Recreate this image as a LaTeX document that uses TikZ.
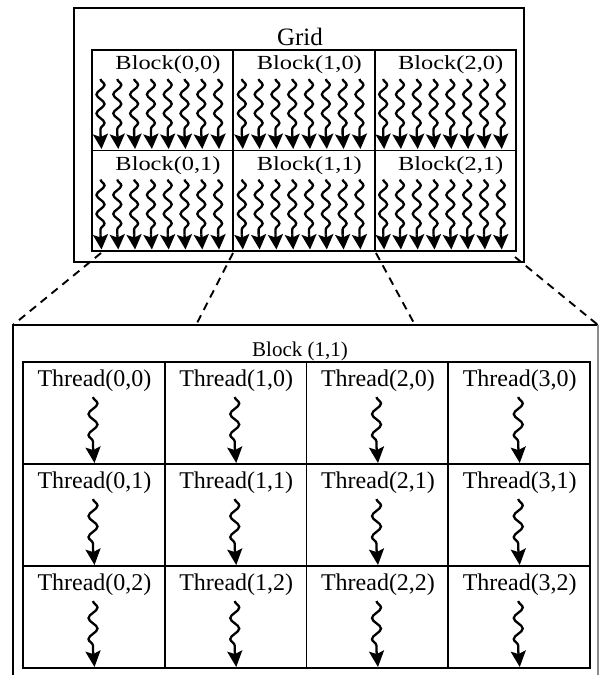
\documentclass[tikz,border=0pt]{standalone}
\usepackage{fontspec}
\setmainfont{Liberation Serif}
\usetikzlibrary{decorations.pathmorphing,arrows.meta}
\begin{document}
\begin{tikzpicture}[x=1pt,y=-1pt,
  framebox/.style={draw=black,line width=1.8pt,inner sep=0pt},
  blockbox/.style={draw=black,line width=1.8pt,inner sep=0pt,minimum width=141.33pt,minimum height=100.5pt},
  cellbox/.style={draw=black,line width=1.8pt,inner sep=0pt,minimum width=141.75pt,minimum height=102pt},
  lbl/.style={inner sep=0pt,text=black},
  gridlbl/.style={lbl,font=\fontsize{25}{29}\selectfont},
  blklbl/.style={lbl,font=\fontsize{20}{24}\selectfont,xscale=1.22},
  thrlbl/.style={lbl,font=\fontsize{24}{28}\selectfont},
  zoomlbl/.style={lbl,font=\fontsize{21}{25}\selectfont},
  smallwave/.style={line width=2.3pt,decorate,decoration={snake,segment length=19pt,amplitude=4pt}},
  smallhead/.style={line width=2.3pt,-{Stealth[length=15pt,width=15pt,inset=3pt]}},
  bigwave/.style={line width=2.3pt,decorate,decoration={snake,segment length=21pt,amplitude=4.5pt}},
  bighead/.style={line width=2.3pt,-{Stealth[length=16pt,width=15pt,inset=3pt]}},
  zoomline/.style={dash pattern=on 8pt off 6pt,line width=1.9pt}
]
\useasboundingbox (0,0) rectangle (600,675);
\fill[white] (0,0) rectangle (600,675);

% Grid frame
\node[framebox,minimum width=450pt,minimum height=254pt] (grid) at (299,135) {};
\node[gridlbl] (gridtitle) at (300,37) {Grid};

% Blocks
\foreach \c in {0,1,2} {
  \foreach \r in {0,1} {
    \node[blockbox] (b-\c-\r) at ({92+141.33*\c+70.67},{50+100.5*\r+50.25}) {};
    \node[blklbl] (bl-\c-\r) at ({92+141.33*\c+76},{50+100.5*\r+15}) {Block(\c,\r)};
    \foreach \k in {0,...,7} {
      \coordinate (s-\c-\r-\k) at ({92+141.33*\c+8.5+16.8*\k},{50+100.5*\r+29});
      \coordinate (m-\c-\r-\k) at ({92+141.33*\c+8.5+16.8*\k},{50+100.5*\r+84});
      \coordinate (e-\c-\r-\k) at ({92+141.33*\c+9.5+16.8*\k},{50+100.5*\r+99});
      \draw[smallwave] (s-\c-\r-\k) -- (m-\c-\r-\k);
      \draw[smallhead] (m-\c-\r-\k) -- (e-\c-\r-\k);
    }
  }
}

% Zoom lines
\coordinate (z1a) at (101,253); \coordinate (z1b) at (13,325);
\coordinate (z2a) at (233,253); \coordinate (z2b) at (196,325);
\coordinate (z3a) at (376,253); \coordinate (z3b) at (415,325);
\coordinate (z4a) at (515,257); \coordinate (z4b) at (598,325);
\draw[zoomline] (z1a) -- (z1b);
\draw[zoomline] (z2a) -- (z2b);
\draw[zoomline] (z3a) -- (z3b);
\draw[zoomline] (z4a) -- (z4b);

% Enlarged block frame
\coordinate (bb1) at (13,676); \coordinate (bb2) at (13,325);
\coordinate (bb3) at (598,325); \coordinate (bb4) at (598,676);
\draw[line width=1.8pt] (bb1) -- (bb2) -- (bb3);
\draw[line width=1.2pt,black!45] (bb3) -- (bb4);
\node[zoomlbl] (zoomtitle) at (300,351) {Block (1,1)};

% Threads
\foreach \c in {0,1,2,3} {
  \foreach \r in {0,1,2} {
    \node[cellbox] (t-\c-\r) at ({23+141.75*\c+70.875},{362+102*\r+51}) {};
    \node[thrlbl] (tl-\c-\r) at ({23+141.75*\c+71.5},{362+102*\r+19}) {Thread(\c,\r)};
    \coordinate (ts-\c-\r) at ({23+141.75*\c+70},{362+102*\r+35});
    \coordinate (tm-\c-\r) at ({23+141.75*\c+70},{362+102*\r+85});
    \coordinate (te-\c-\r) at ({23+141.75*\c+71.5},{362+102*\r+101});
    \draw[bigwave] (ts-\c-\r) -- (tm-\c-\r);
    \draw[bighead] (tm-\c-\r) -- (te-\c-\r);
  }
}
\end{tikzpicture}
\end{document}
